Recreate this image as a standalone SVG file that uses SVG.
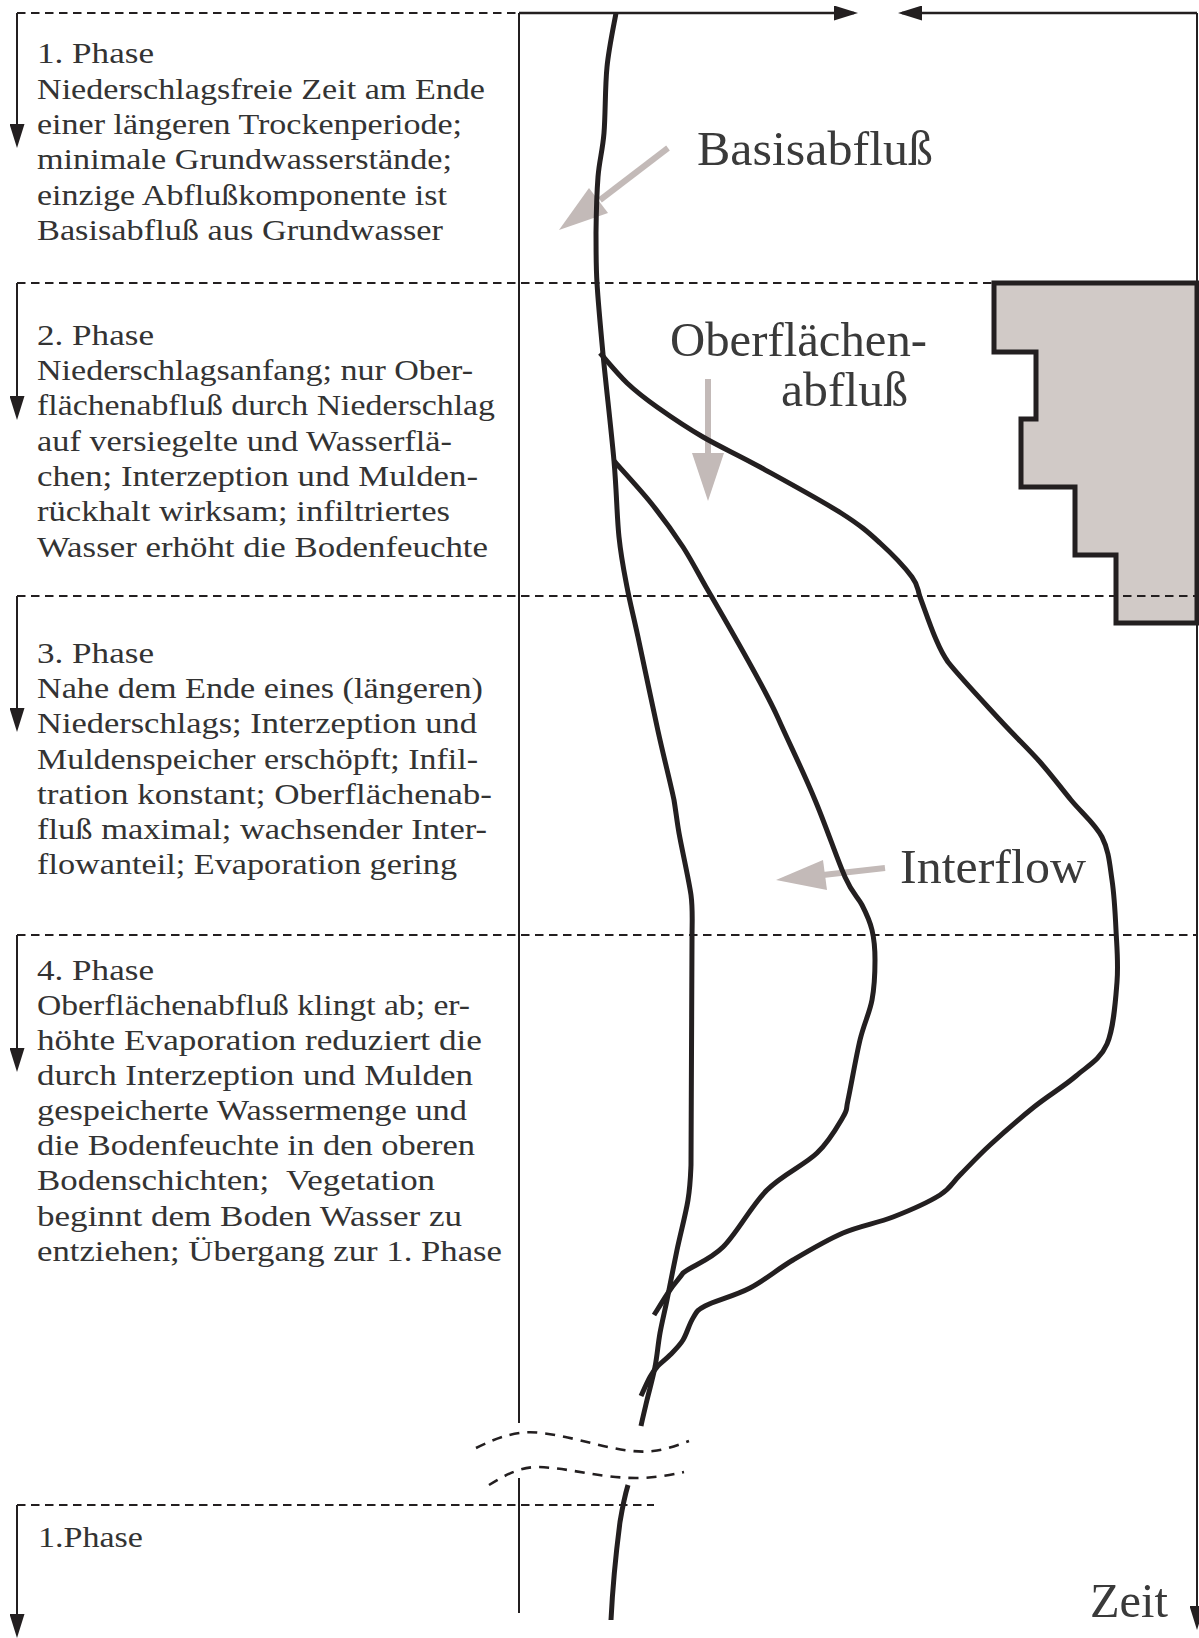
<svg xmlns="http://www.w3.org/2000/svg" width="1199" height="1638" viewBox="0 0 1199 1638">
<style>
.dash{stroke:#231f20;stroke-width:2.2;stroke-dasharray:8.5 5.5;fill:none}
.wave{stroke:#231f20;stroke-width:2.6;stroke-dasharray:10 8;fill:none}
.ax{stroke:#231f20;stroke-width:2;fill:none}
.axt{stroke:#231f20;stroke-width:2.6;fill:none}
.curve{stroke:#231f20;stroke-width:5;fill:none;stroke-linejoin:round}
.t{font-family:Liberation Serif,Times New Roman,Times,DejaVu Serif,serif;font-size:30px;fill:#333}
.lbl{font-family:Liberation Serif,Times New Roman,Times,DejaVu Serif,serif;font-size:48px;fill:#3a3a3a}
.garrow{stroke:#c3bab8;stroke-width:6;fill:none}
.ghead{fill:#c3bab8}
</style>
<defs>
<marker id="ah" markerUnits="userSpaceOnUse" markerWidth="24" markerHeight="15" refX="20" refY="7.5" orient="auto">
<path d="M0,0 L24,7.5 L0,15 Z" fill="#231f20"/>
</marker>
</defs>

<g id="staircase">
<path d="M994,283 L1197,283 L1197,623 L1116,623 L1116,555 L1075,555 L1075,487 L1021,487 L1021,419 L1036,419 L1036,352 L994,352 Z" fill="#d1cac7" stroke="#231f20" stroke-width="5"/>
</g>

<g id="phase-lines">
<line class="dash" x1="17" y1="13" x2="519" y2="13"/>
<line class="dash" x1="17" y1="283" x2="994" y2="283"/>
<line class="dash" x1="17" y1="596" x2="1197" y2="596"/>
<line class="dash" x1="17" y1="935" x2="1197" y2="935"/>
<line class="dash" x1="17" y1="1505" x2="654" y2="1505"/>
<path class="wave" d="M476,1448 C500,1436 520,1430 541,1433 C580,1437 620,1455 653,1451 C665,1450 678,1445 689,1441"/>
<path class="wave" d="M489,1485 C505,1475 520,1467 538,1467 C570,1468 600,1478 636,1478 C655,1478 670,1475 684,1472"/>
</g>

<g id="connectors">
<line class="ax" x1="17" y1="13" x2="17" y2="144" marker-end="url(#ah)"/>
<line class="ax" x1="17" y1="283" x2="17" y2="416" marker-end="url(#ah)"/>
<line class="ax" x1="17" y1="596" x2="17" y2="728" marker-end="url(#ah)"/>
<line class="ax" x1="17" y1="935" x2="17" y2="1068" marker-end="url(#ah)"/>
<line class="ax" x1="17" y1="1505" x2="17" y2="1634" marker-end="url(#ah)"/>
<line class="ax" x1="519" y1="13" x2="519" y2="1423"/>
<line class="ax" x1="519" y1="1478" x2="519" y2="1613"/>
<line class="axt" x1="519" y1="13" x2="854" y2="13" marker-end="url(#ah)"/>
<line class="axt" x1="1197" y1="13" x2="902" y2="13" marker-end="url(#ah)"/>
<line class="ax" x1="1197" y1="13" x2="1197" y2="1626" marker-end="url(#ah)"/>
<line class="garrow" x1="668" y1="148" x2="600" y2="200"/>
<polygon class="ghead" points="559,230 589,188 608,213"/>
<line class="garrow" x1="708" y1="379" x2="708" y2="455"/>
<polygon class="ghead" points="692,453 724,453 708,501"/>
<line class="garrow" x1="885" y1="868" x2="823" y2="875"/>
<polygon class="ghead" points="823,860 827,890 776,880"/>
</g>

<g id="curves">
<path id="basisabfluss-curve" class="curve" d="M616,13 C614.5,22 609,47 607,67 C605,87 605.5,114.7 604,133 C602.5,151.3 599.3,160.3 598,177 C596.7,193.7 596.2,215.3 596,233 C596.2,250.7 595.8,262.8 597,283 C598.2,303.2 600.2,324.3 603,354 C605.8,383.7 611.3,430.5 614,461 C616.7,491.5 616.8,516 619,537 C621.2,558 623.8,570.3 627,587 C630.2,603.7 632.8,613 638,637 C643.2,661 652,703.8 658,731 C664,758.2 670.5,783 674,800 C676,812 677,822 679,833 C681.8,848.8 688.8,879.7 691,895 C693,910 692,920 692,940 L691,1165 C690.5,1176.7 690.3,1185.8 688,1200 C685.7,1214.2 680.5,1233.3 677,1250 C673.5,1266.7 669.8,1286.2 667,1300 C664.2,1313.8 662,1321.8 660,1333 C658,1344.2 657.2,1355.8 655,1367 C652.8,1378.2 649.3,1390.3 647,1400 C644.7,1409.7 642,1420.8 641,1426"/>
<path id="basisabfluss-curve-after" class="curve" d="M628,1485 C625,1495 622,1510 620,1522 C617,1545 613,1580 611,1620"/>
<path id="oberflaechen-curve" class="curve" d="M600,353 C604.5,358 617.5,374 627,383 C636.5,392 644.3,398 657,407 C669.7,416 685.8,427 703,437 C720.2,447 737,454.3 760,467 C783,479.7 821,500.3 841,513 C861,525.7 868.2,532.3 880,543 C891.8,553.7 905.3,568 912,577 C918.7,586 917,588 920,597 C923.8,607 930.3,626.2 935,637 C939.7,647.8 941,652 948,662 C958.8,675.8 984.7,703.3 1000,720 C1015.3,736.7 1028.2,748.7 1040,762 C1051.8,775.3 1060.7,787.5 1071,800 C1081.3,812.5 1095.2,823.7 1102,837 C1108.8,850.3 1109.7,864.5 1112,880 C1114.3,895.5 1115.2,913 1116,930 C1116.8,947 1118.5,963 1117,982 C1115.5,1001 1113.8,1028.3 1107,1044 C1100.2,1059.7 1088.2,1065.5 1076,1076 C1063.8,1086.5 1048.3,1095.5 1034,1107 C1019.7,1118.5 1002.3,1133.7 990,1145 C977.7,1156.3 968.3,1166.7 960,1175 C951.7,1183.3 951.2,1188 940,1195 C928.8,1202 909.2,1210.7 893,1217 C876.8,1223.3 859.7,1225.8 843,1233 C826.3,1240.2 808.5,1250.8 793,1260 C777.5,1269.2 764.7,1280.3 750,1288 C735.3,1295.7 714.5,1301 705,1306 C695.5,1311 696.7,1312.3 693,1318 C689.3,1323.7 686.8,1333.8 683,1340 C679.2,1346.2 674.3,1350.5 670,1355 C665.7,1359.5 660.3,1363.3 657,1367 C653.7,1370.7 652.7,1372.2 650,1377 C647.3,1381.8 642.5,1392.8 641,1396"/>
<path id="interflow-curve" class="curve" d="M614,461 C620.2,468 639.5,488.7 651,503 C662.5,517.3 673.8,533 683,547 C692,561 699,575 706,587 C720,611 766,691 778,718 C790,745 804,773 815,800 C826.2,826.5 837.2,859.5 845,877 C852.8,894.5 857.5,896.2 862,905 C866.5,913.8 869.8,920.8 872,930 C874.2,939.2 875,948.3 875,960 C875,971.7 874.5,986.7 872,1000 C869.5,1013.3 864,1023.3 860,1040 C856,1056.7 850.8,1087.2 848,1100 C845.2,1112.8 848.2,1108.2 843,1117 C837.8,1125.8 829.7,1140.8 817,1153 C804.3,1165.2 782.7,1174.3 767,1190 C751.3,1205.7 737,1233.2 723,1247 C709,1260.8 691.8,1265.8 683,1273 C678.2,1280 674.8,1283 670,1290 C665.2,1297 656.7,1310.8 654,1315"/>
</g>

<g id="labels">
<text class="lbl" x="697" y="165" textLength="236" lengthAdjust="spacingAndGlyphs">Basisabfluß</text>
<text class="lbl" x="670" y="356" textLength="257" lengthAdjust="spacingAndGlyphs">Oberflächen-</text>
<text class="lbl" x="781" y="406" textLength="127" lengthAdjust="spacingAndGlyphs">abfluß</text>
<text class="lbl" x="900" y="883" textLength="186" lengthAdjust="spacingAndGlyphs">Interflow</text>
<text class="lbl" x="1090" y="1617" textLength="78" lengthAdjust="spacingAndGlyphs">Zeit</text>
</g>

<g id="phase1">
<text class="t" x="37" y="63" textLength="117" lengthAdjust="spacingAndGlyphs">1. Phase</text>
<text class="t" x="37" y="99" textLength="448" lengthAdjust="spacingAndGlyphs">Niederschlagsfreie Zeit am Ende</text>
<text class="t" x="37" y="134" textLength="425" lengthAdjust="spacingAndGlyphs">einer längeren Trockenperiode;</text>
<text class="t" x="37" y="169" textLength="415" lengthAdjust="spacingAndGlyphs">minimale Grundwasserstände;</text>
<text class="t" x="37" y="205" textLength="410" lengthAdjust="spacingAndGlyphs">einzige Abflußkomponente ist</text>
<text class="t" x="37" y="240" textLength="406" lengthAdjust="spacingAndGlyphs">Basisabfluß aus Grundwasser</text>
</g>
<g id="phase2">
<text class="t" x="37" y="345" textLength="117" lengthAdjust="spacingAndGlyphs">2. Phase</text>
<text class="t" x="37" y="380" textLength="436" lengthAdjust="spacingAndGlyphs">Niederschlagsanfang; nur Ober-</text>
<text class="t" x="37" y="415" textLength="458" lengthAdjust="spacingAndGlyphs">flächenabfluß durch Niederschlag</text>
<text class="t" x="37" y="451" textLength="415" lengthAdjust="spacingAndGlyphs">auf versiegelte und Wasserflä-</text>
<text class="t" x="37" y="486" textLength="441" lengthAdjust="spacingAndGlyphs">chen; Interzeption und Mulden-</text>
<text class="t" x="37" y="521" textLength="413" lengthAdjust="spacingAndGlyphs">rückhalt wirksam; infiltriertes</text>
<text class="t" x="37" y="557" textLength="451" lengthAdjust="spacingAndGlyphs">Wasser erhöht die Bodenfeuchte</text>
</g>
<g id="phase3">
<text class="t" x="37" y="663" textLength="117" lengthAdjust="spacingAndGlyphs">3. Phase</text>
<text class="t" x="37" y="698" textLength="446" lengthAdjust="spacingAndGlyphs">Nahe dem Ende eines (längeren)</text>
<text class="t" x="37" y="733" textLength="440" lengthAdjust="spacingAndGlyphs">Niederschlags; Interzeption und</text>
<text class="t" x="37" y="769" textLength="441" lengthAdjust="spacingAndGlyphs">Muldenspeicher erschöpft; Infil-</text>
<text class="t" x="37" y="804" textLength="455" lengthAdjust="spacingAndGlyphs">tration konstant; Oberflächenab-</text>
<text class="t" x="37" y="839" textLength="450" lengthAdjust="spacingAndGlyphs">fluß maximal; wachsender Inter-</text>
<text class="t" x="37" y="874" textLength="420" lengthAdjust="spacingAndGlyphs">flowanteil; Evaporation gering</text>
</g>
<g id="phase4">
<text class="t" x="37" y="980" textLength="117" lengthAdjust="spacingAndGlyphs">4. Phase</text>
<text class="t" x="37" y="1015" textLength="433" lengthAdjust="spacingAndGlyphs">Oberflächenabfluß klingt ab; er-</text>
<text class="t" x="37" y="1050" textLength="445" lengthAdjust="spacingAndGlyphs">höhte Evaporation reduziert die</text>
<text class="t" x="37" y="1085" textLength="436" lengthAdjust="spacingAndGlyphs">durch Interzeption und Mulden</text>
<text class="t" x="37" y="1120" textLength="430" lengthAdjust="spacingAndGlyphs">gespeicherte Wassermenge und</text>
<text class="t" x="37" y="1155" textLength="438" lengthAdjust="spacingAndGlyphs">die Bodenfeuchte in den oberen</text>
<text class="t" x="37" y="1190" textLength="398" lengthAdjust="spacingAndGlyphs" style="white-space:pre">Bodenschichten;  Vegetation</text>
<text class="t" x="37" y="1226" textLength="425" lengthAdjust="spacingAndGlyphs">beginnt dem Boden Wasser zu</text>
<text class="t" x="37" y="1261" textLength="465" lengthAdjust="spacingAndGlyphs">entziehen; Übergang zur 1. Phase</text>
</g>
<g id="phase1-repeat">
<text class="t" x="38" y="1547" textLength="105" lengthAdjust="spacingAndGlyphs">1.Phase</text>
</g>
</svg>
